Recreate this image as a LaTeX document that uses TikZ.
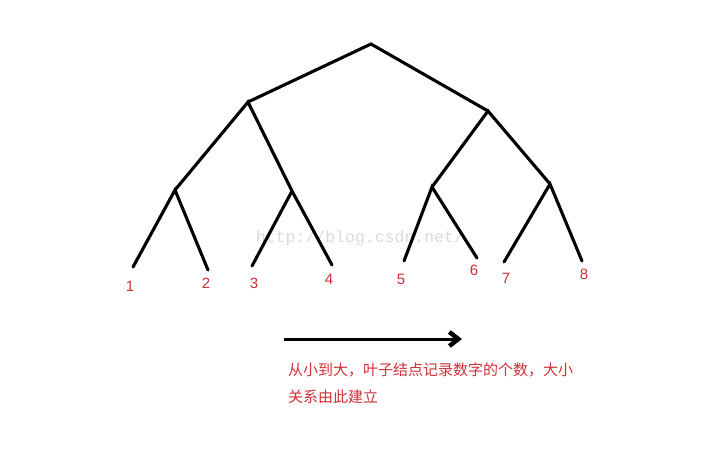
\documentclass[tikz,border=0pt]{standalone}
\usepackage{fontspec}
\setmainfont{Liberation Sans}
\newfontfamily\cjk{Noto Sans CJK SC}
\newfontfamily\wmfont{Liberation Mono}
\usetikzlibrary{positioning, arrows.meta}
\definecolor{rossoetichetta}{RGB}{204,48,56}
\definecolor{grigiofiligrana}{RGB}{218,218,218}

\begin{document}
\begin{tikzpicture}[
        x=1pt, y=-1pt,            % coordinate in pixel, y verso il basso
        % Stili globali
        ramo/.style={line width=3.1pt, line cap=round}, % rami dell'albero
        foglia/.style={text=rossoetichetta, font=\fontsize{15}{17}\selectfont}, % numeri delle foglie
        freccia/.style={line width=3pt, -{Straight Barb[length=9pt, width=14pt, line width=4.5pt]}},
        nota/.style={text=rossoetichetta, align=left, anchor=north west, inner sep=0pt,
                     font=\cjk\fontsize{15}{27}\selectfont}
    ]
    \useasboundingbox (0,0) rectangle (703,451);

    % filigrana
    \node (wm) [text=grigiofiligrana, font=\wmfont\fontsize{16.5}{18}\selectfont] at (360,238) {http://blog.csdn.net/};

    % nodi dell'albero
    \coordinate (R) at (371,44);
    \coordinate (A) at (248,102);
    \coordinate (B) at (488,111);
    \coordinate (A1) at (175,190);
    \coordinate (A2) at (292,191);
    \coordinate (B1) at (432,187);
    \coordinate (B2) at (550,184);
    \coordinate (f1) at (133,267);
    \coordinate (f2) at (208,270);
    \coordinate (f3) at (252,266);
    \coordinate (f4) at (332,265);
    \coordinate (f5) at (404,261);
    \coordinate (f6) at (477,258);
    \coordinate (f7) at (504,262);
    \coordinate (f8) at (582,261);

    \draw[ramo] (A) -- (R) -- (B);
    \draw[ramo] (A1) -- (A) -- (A2);
    \draw[ramo] (B1) -- (B) -- (B2);
    \draw[ramo] (f1) -- (A1) -- (f2);
    \draw[ramo] (f3) -- (A2) -- (f4);
    \draw[ramo] (f5) -- (B1) -- (f6);
    \draw[ramo] (f7) -- (B2) -- (f8);

    % etichette delle foglie
    \node (n1) [foglia] at (130,286) {1};
    \node (n2) [foglia] at (206,283) {2};
    \node (n3) [foglia] at (254,283) {3};
    \node (n4) [foglia] at (329,279) {4};
    \node (n5) [foglia] at (401,279) {5};
    \node (n6) [foglia] at (474,270) {6};
    \node (n7) [foglia] at (506,278) {7};
    \node (n8) [foglia] at (584,274) {8};

    % freccia e testo
    \coordinate (inizio) at (284,339);
    \coordinate (fine) at (462,339);
    \draw[freccia] (inizio) -- (fine);
    \node (testo) [nota] at (288,363) {从小到大，叶子结点记录数字的个数，大小\\关系由此建立};
\end{tikzpicture}
\end{document}
